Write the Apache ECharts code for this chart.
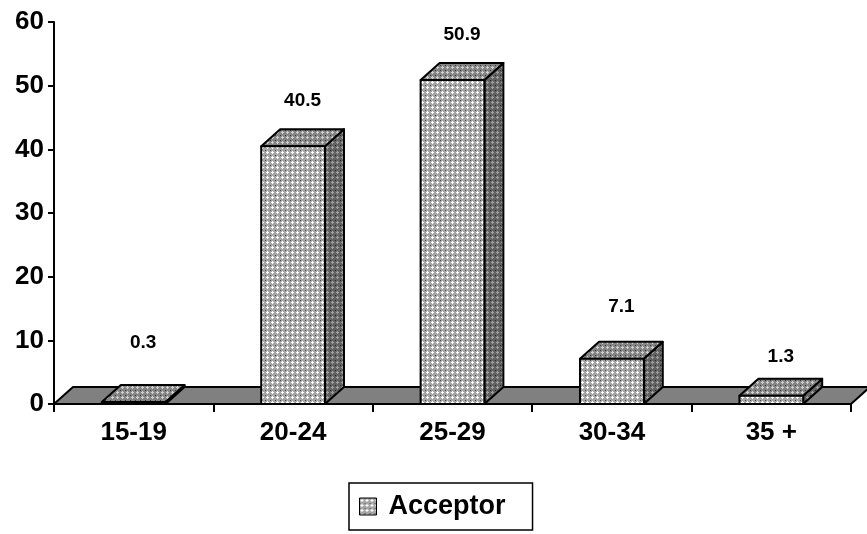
<!DOCTYPE html>
<html>
<head>
<meta charset="utf-8">
<script src="https://cdn.jsdelivr.net/npm/echarts@6/dist/echarts.min.js"></script>
<style>
  html, body { margin: 0; padding: 0; background: #fff; }
  #chart { width: 867px; height: 534px; }
</style>
</head>
<body>
<div id="chart"></div>
<script>
// data
const categories = ['15-19', '20-24', '25-29', '30-34', '35 +'];
const acceptor = [0.3, 40.5, 50.9, 7.1, 1.3];

// how far each value label sits above its bar's back top edge (px)
const labelLift = [42, 28, 28, 35, 22];

const FONT = '"Liberation Sans", Arial, sans-serif';
const DX = 19, DY = -17; // 3d depth offset

// little dither tile, like the excel fill pattern
function makeTile(base, light, dark) {
  const c = document.createElement('canvas');
  c.width = 5; c.height = 5;
  const g = c.getContext('2d');
  g.fillStyle = base; g.fillRect(0, 0, 5, 5);
  g.fillStyle = light;
  g.fillRect(2, 1, 1, 3);
  g.fillRect(1, 2, 3, 1);
  g.fillStyle = dark;
  g.fillRect(0, 0, 1, 1);
  return { image: c, repeat: 'repeat' };
}
const frontFill = makeTile('#a6a6a6', '#ffffff', '#4a4a4a');
const topFill = makeTile('#858585', '#d0d0d0', '#383838');
const sideFill = makeTile('#626262', '#a0a0a0', '#242424');

const chart = echarts.init(document.getElementById('chart'), null, { renderer: 'canvas' });

function renderFloor(params, api) {
  const cs = params.coordSys;
  const base = api.coord([0, 0])[1];
  const x0 = cs.x, x1 = cs.x + cs.width;
  return {
    type: 'polygon',
    shape: { points: [[x0, base], [x1, base], [x1 + DX, base + DY], [x0 + DX, base + DY]] },
    style: { fill: '#808080', stroke: '#000', lineWidth: 2 }
  };
}

function renderBar(params, api) {
  const idx = api.value(0);
  const val = api.value(1);
  const top = api.coord([idx, val]);
  const base = api.coord([idx, 0])[1];
  const w = api.size([1, 0])[0] * 0.4;
  const l = top[0] - w / 2, r = top[0] + w / 2, t = top[1];
  const line = { stroke: '#000', lineWidth: 2, lineJoin: 'round' };
  return {
    type: 'group',
    children: [
      {
        type: 'polygon',
        shape: { points: [[r, t], [r + DX, t + DY], [r + DX, base + DY], [r, base]] },
        style: Object.assign({ fill: sideFill }, line)
      },
      {
        type: 'polygon',
        shape: { points: [[l, t], [r, t], [r + DX, t + DY], [l + DX, t + DY]] },
        style: Object.assign({ fill: topFill }, line)
      },
      {
        type: 'rect',
        shape: { x: l, y: t, width: w, height: base - t },
        style: Object.assign({ fill: frontFill }, line)
      },
      {
        type: 'text',
        style: {
          text: String(acceptor[idx]),
          x: top[0] + DX / 2,
          y: t + DY - labelLift[idx],
          align: 'center',
          verticalAlign: 'middle',
          font: 'bold 19px ' + FONT,
          fill: '#000'
        }
      }
    ]
  };
}

const option = {
  animation: false,
  grid: { left: 54, right: 16, top: 22, bottom: 130, containLabel: false },
  legend: {
    data: ['Acceptor'],
    left: 349,
    top: 483,
    padding: [10, 27, 10, 10],
    borderColor: '#000',
    borderWidth: 1.5,
    borderRadius: 0,
    itemWidth: 17,
    itemHeight: 17,
    icon: 'rect',
    itemStyle: { borderColor: '#000', borderWidth: 1 },
    textStyle: {
      fontFamily: FONT, fontWeight: 'bold', fontSize: 27, color: '#000',
      padding: [0, 0, 0, 7]
    }
  },
  xAxis: {
    type: 'category',
    data: categories,
    boundaryGap: true,
    axisLine: { lineStyle: { color: '#000', width: 2 } },
    axisTick: { show: true, length: 8, alignWithLabel: false, lineStyle: { color: '#000', width: 2 } },
    axisLabel: { margin: 16, fontFamily: FONT, fontWeight: 'bold', fontSize: 26, color: '#000' },
    splitLine: { show: false }
  },
  yAxis: {
    type: 'value',
    min: 0,
    max: 60,
    interval: 10,
    axisLine: { show: true, lineStyle: { color: '#000', width: 2 } },
    axisTick: { show: true, length: 6, lineStyle: { color: '#000', width: 2 } },
    axisLabel: { margin: 10, fontFamily: FONT, fontWeight: 'bold', fontSize: 26, color: '#000' },
    splitLine: { show: false }
  },
  series: [
    {
      name: 'floor',
      type: 'custom',
      silent: true,
      renderItem: renderFloor,
      data: [[0, 0]],
      z: 1
    },
    {
      name: 'Acceptor',
      type: 'custom',
      silent: true,
      renderItem: renderBar,
      itemStyle: { color: frontFill, borderColor: '#000', borderWidth: 1 },
      encode: { x: 0, y: 1 },
      data: acceptor.map((v, i) => [i, v]),
      z: 2
    }
  ]
};

chart.setOption(option);
window.addEventListener('resize', () => chart.resize());
</script>
</body>
</html>
